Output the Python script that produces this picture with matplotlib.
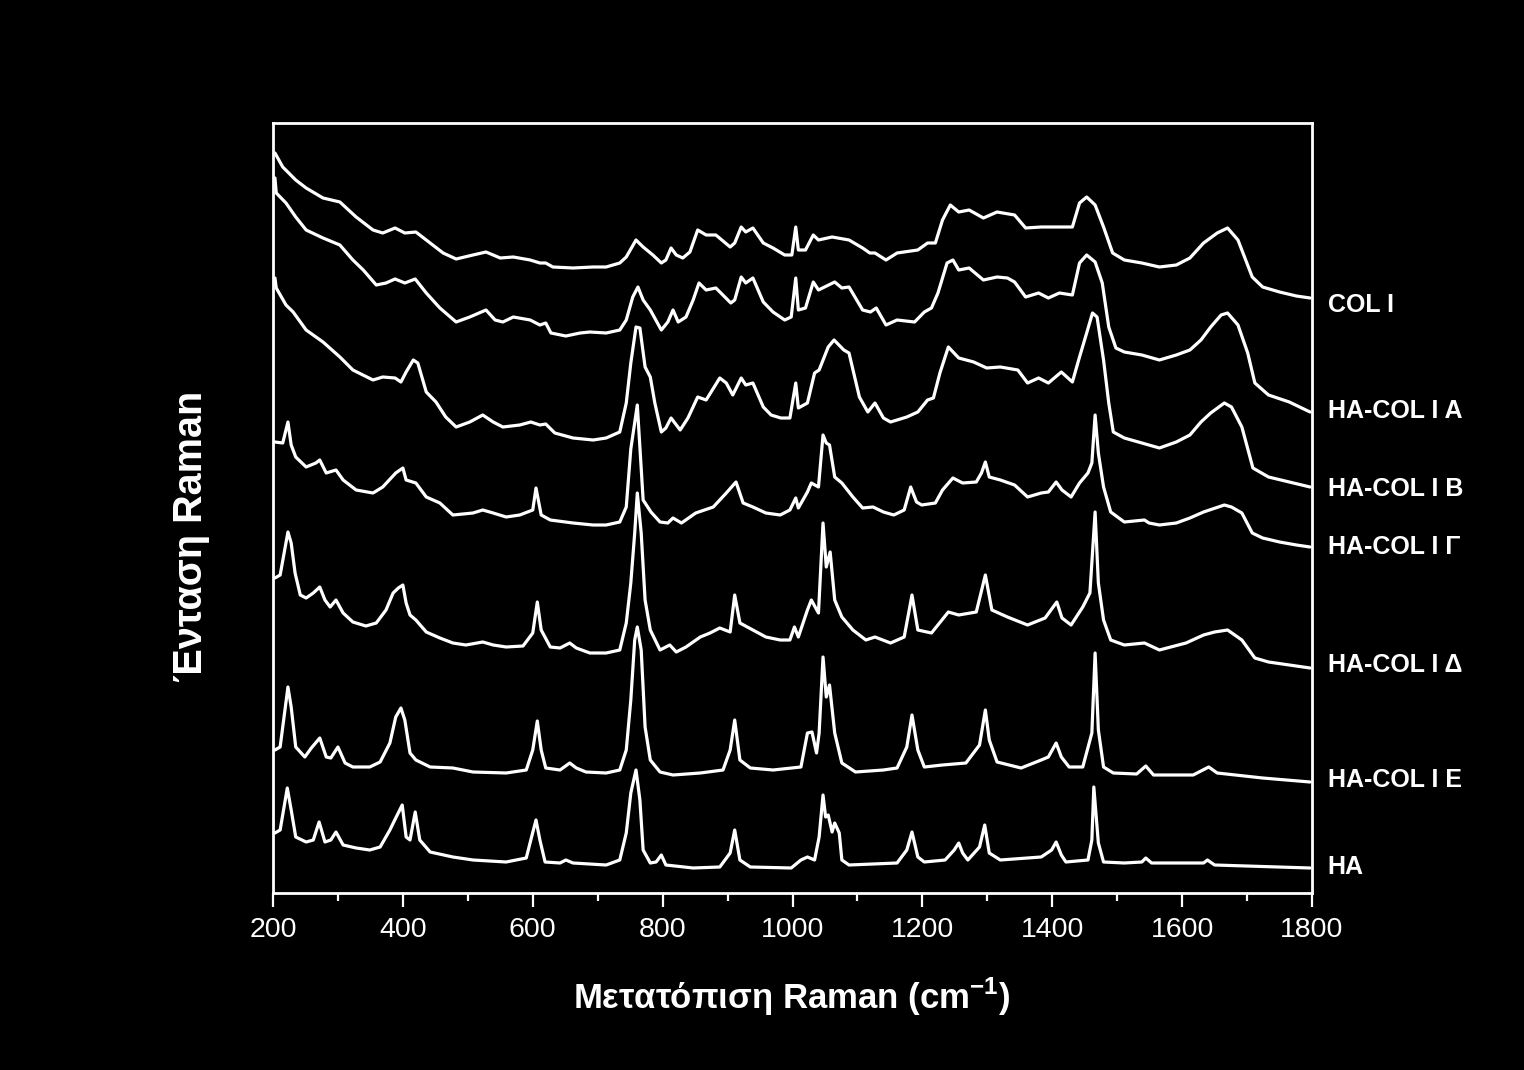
import matplotlib
matplotlib.use('Agg')
import matplotlib.pyplot as plt
from matplotlib.ticker import MultipleLocator
import matplotlib.transforms as mtransforms

plt.rcParams['font.family'] = ['Liberation Sans', 'DejaVu Sans']
plt.rcParams['mathtext.fontset'] = 'custom'
plt.rcParams['mathtext.rm'] = 'Liberation Sans'
plt.rcParams['mathtext.bf'] = 'Liberation Sans:bold'

# ---------------- data (Raman shift in cm-1, intensity in arbitrary units) ----------------
col_x = [203,215,235,251,277,303,328,354,369,388,403,420,442,462,482,508,528,550,570,596,
         611,620,631,662,693,713,734,744,759,770,785,798,805,813,821,831,842,854,867,882,
         904,911,921,928,939,955,970,988,999,
         1005,1009,1020,1032,1040,1061,1087,1108,1119,1127,1144,1161,1193,1208,1220,1231,1243,1256,1272,1294,
         1315,1342,1359,1383,1411,1431,1442,1453,1466,1479,1493,1511,1538,1565,1591,1612,1633,1654,1670,1686,
         1708,1724,1750,1776,1797]
col_y = [736,722,709,701,691,687,672,659,656,661,656,657,646,636,630,634,637,631,632,629,
         626,626,622,621,622,622,626,632,649,642,634,626,629,641,634,631,637,659,654,654,
         642,646,662,657,661,646,641,634,634,
         662,639,639,654,649,652,649,641,636,636,629,636,639,646,646,669,684,677,679,671,
         677,674,661,662,662,662,686,692,684,662,636,629,626,622,624,631,646,656,661,649,
         612,602,597,593,591]

a_x = [203,205,220,235,251,277,303,323,339,359,374,388,403,419,436,457,482,503,528,542,
       554,570,596,611,620,628,651,673,688,713,734,744,754,762,770,781,798,808,816,824,
       836,847,856,867,882,905,911,921,928,939,955,970,988,998,
       1005,1009,1020,1032,1040,1065,1076,1087,1108,1120,1129,1144,1161,1188,1203,1214,1224,1238,1247,1256,
       1272,1294,1315,1331,1342,1359,1379,1394,1411,1431,1442,1453,1466,1477,1487,1498,1511,1538,1565,1591,
       1612,1629,1644,1660,1670,1686,1701,1712,1733,1765,1797]
a_y = [711,696,686,672,659,651,644,629,619,604,606,610,606,610,596,581,567,572,579,569,
       567,572,569,564,566,556,553,556,557,556,559,569,592,602,589,579,559,567,579,567,
       572,589,606,599,601,586,589,612,606,611,587,577,569,572,
       611,579,581,607,599,607,601,602,579,577,581,564,569,567,577,581,596,626,629,619,
       621,609,612,611,607,592,596,591,596,594,626,634,627,606,562,541,537,534,529,534,
       539,549,562,574,576,564,536,506,494,487,477]

b_x = [203,205,220,231,251,277,303,323,354,369,388,397,405,416,423,436,451,466,482,503,
       523,539,554,580,597,611,620,634,662,693,713,734,744,751,759,765,773,781,788,798,
       805,813,827,839,854,867,888,898,908,921,928,939,955,967,982,996,
       1005,1009,1023,1034,1041,1055,1064,1079,1087,1103,1116,1127,1140,1151,1176,1193,1208,1217,1227,1240,
       1256,1279,1299,1320,1347,1362,1379,1394,1414,1431,1442,1453,1462,1469,1479,1487,1494,1511,1538,1565,
       1591,1612,1629,1644,1665,1676,1692,1709,1733,1765,1797]
b_y = [611,601,584,577,559,547,532,519,509,512,511,507,517,529,526,497,487,472,462,467,
       474,467,462,464,467,464,465,456,451,449,451,457,486,526,562,561,522,512,486,457,
       461,471,459,471,492,489,511,506,494,511,504,506,482,474,471,471,
       506,481,486,516,519,542,549,539,536,492,477,486,471,467,472,477,489,491,516,542,
       531,527,521,522,519,506,511,506,517,507,532,556,576,572,529,486,457,451,446,441,
       447,454,467,476,486,482,462,421,412,407,402]

g_x = [203,215,223,228,235,251,266,272,282,297,308,328,354,369,389,400,405,420,436,457,
       477,508,523,539,559,580,600,605,613,627,662,693,713,734,744,751,761,770,782,796,
       808,816,829,851,878,898,913,924,939,959,981,996,
       1005,1009,1023,1029,1040,1047,1052,1057,1065,1076,1093,1108,1124,1140,1156,1172,1182,1191,1199,1220,
       1231,1247,1262,1283,1291,1297,1303,1320,1342,1362,1383,1394,1406,1415,1429,1442,1455,1461,1466,1471,
       1479,1490,1511,1542,1549,1565,1591,1612,1633,1665,1676,1692,1708,1724,1750,1776,1797]
g_y = [447,446,467,444,432,422,426,429,416,419,409,399,396,402,416,421,409,406,392,386,
       374,376,379,376,372,374,379,401,374,369,366,364,364,367,382,440,484,389,377,367,
       366,371,366,376,382,396,407,386,382,376,374,379,
       391,381,397,406,402,454,446,444,412,406,392,381,382,377,374,379,402,387,384,386,
       399,411,406,407,416,427,412,409,404,392,396,397,407,399,392,406,416,426,474,436,
       402,377,367,369,366,364,366,371,377,384,382,376,356,351,347,344,342]

d_x = [203,211,223,228,234,242,251,262,272,280,288,297,308,323,343,359,374,385,393,400,
       405,411,420,436,457,477,497,523,539,559,585,600,607,613,627,642,657,667,688,713,
       734,744,751,757,761,767,773,781,796,811,821,836,858,873,888,904,911,919,939,959,
       981,996,
       1003,1009,1023,1029,1040,1047,1052,1058,1065,1076,1093,1113,1127,1151,1172,1184,1193,1214,1240,1256,
       1283,1297,1307,1331,1362,1389,1407,1415,1429,1447,1458,1466,1471,1479,1490,1511,1542,1565,1606,1633,
       1650,1670,1692,1712,1733,1765,1797]
d_y = [311,314,357,346,316,294,291,296,302,289,282,289,276,267,263,266,279,296,301,304,
       286,274,269,257,251,246,244,247,244,242,243,256,287,259,242,241,246,241,236,236,
       239,266,306,356,396,356,289,259,239,244,237,242,252,256,261,257,294,266,259,252,
       249,249,
       262,252,279,289,276,366,322,337,289,272,259,249,252,246,252,294,259,256,277,274,
       277,314,279,272,264,271,287,271,264,282,296,377,306,269,249,244,246,239,246,254,
       257,259,249,231,227,224,221]

e_x = [203,211,223,228,235,249,259,272,282,289,300,311,323,349,365,380,389,397,403,411,
       420,442,477,508,559,590,600,607,613,620,642,657,667,682,713,734,744,751,757,761,
       767,773,781,796,816,858,893,904,911,919,935,970,
       1013,1023,1030,1037,1041,1047,1052,1057,1065,1076,1097,1140,1161,1176,1184,1193,1203,1231,1267,1288,
       1297,1303,1315,1352,1383,1394,1406,1414,1426,1447,1461,1466,1471,1479,1494,1530,1544,1556,1617,1641,
       1654,1724,1797]
e_y = [139,142,202,182,142,132,141,151,132,131,142,126,122,122,127,146,172,181,169,136,
       129,122,121,117,116,119,139,168,139,121,119,126,121,117,116,119,139,189,249,262,
       239,162,129,117,114,116,119,139,169,129,121,119,
       122,156,157,136,156,232,192,204,156,126,117,119,121,142,174,139,122,124,126,144,
       179,149,127,121,129,132,146,132,122,122,156,236,159,122,116,115,123,114,114,122,
       116,111,107]

ha_x = [203,211,222,228,235,251,262,271,280,289,297,308,328,349,365,380,389,399,405,411,
        419,426,442,477,508,559,590,597,605,611,619,642,651,662,713,734,744,751,759,765,
        770,781,790,798,805,847,888,904,911,919,935,998,
        1013,1023,1034,1041,1047,1051,1055,1061,1065,1072,1076,1087,1161,1176,1184,1193,1203,1235,1249,1256,
        1262,1270,1288,1296,1303,1320,1383,1399,1406,1414,1421,1455,1461,1464,1471,1479,1511,1538,1544,1553,
        1633,1639,1650,1797]
ha_y = [56,59,101,79,52,47,49,67,47,49,57,44,41,39,42,59,71,84,52,49,
        77,49,37,32,29,27,31,49,69,49,27,26,29,26,24,29,56,96,119,89,
        39,26,27,34,24,21,22,36,59,29,22,21,
        29,32,29,52,94,72,74,57,66,56,29,24,26,39,57,32,27,29,39,46,
        36,29,42,64,36,29,32,39,47,34,27,29,49,102,46,27,26,27,31,26,
        26,29,24,21]

series_x = [col_x, a_x, b_x, g_x, d_x, e_x, ha_x]
series_y = [col_y, a_y, b_y, g_y, d_y, e_y, ha_y]
series_names = ['COL I', 'HA-COL I A', 'HA-COL I B', 'HA-COL I Γ', 'HA-COL I Δ', 'HA-COL I E', 'HA']
label_y = [584, 478, 400, 342, 224, 109, 22]

# ---------------- figure ----------------
W, H = 1524, 1070
fig = plt.figure(figsize=(W / 100, H / 100), dpi=100, facecolor='black')
ax = fig.add_axes([273 / W, 1 - 893 / H, 1039 / W, 770 / H])
ax.set_facecolor('black')

for xs, ys in zip(series_x, series_y):
    ax.plot(xs, ys, color='white', lw=2.3, solid_joinstyle='round', solid_capstyle='round')

ax.set_xlim(200, 1800)
ax.set_ylim(-4, 766)
ax.xaxis.set_major_locator(MultipleLocator(200))
ax.xaxis.set_minor_locator(MultipleLocator(100))
ax.set_yticks([])
ax.tick_params(axis='x', which='major', direction='out', length=10, width=1.6,
               colors='white', labelsize=20.5, pad=7)
ax.tick_params(axis='x', which='minor', direction='out', length=6, width=1.6, colors='white')
for sp in ax.spines.values():
    sp.set_color('white')
    sp.set_linewidth(2)

trans = mtransforms.blended_transform_factory(ax.transAxes, ax.transData)
for name, ly in zip(series_names, label_y):
    ax.text(1.015, ly, name, transform=trans, ha='left', va='center',
            fontsize=18, fontweight='bold', color='white')

fig.text(792 / W, 1 - 997 / H, r'Μετατόπιση Raman (cm$^{\mathbf{-1}}$)',
         ha='center', va='center', fontsize=25, fontweight='bold', color='white')
fig.text(191 / W, 1 - 536 / H, 'Ένταση Raman', rotation=90,
         ha='center', va='center', fontsize=28.5, fontweight='bold', color='white')

fig.savefig('out.png', dpi=100, facecolor='black')
